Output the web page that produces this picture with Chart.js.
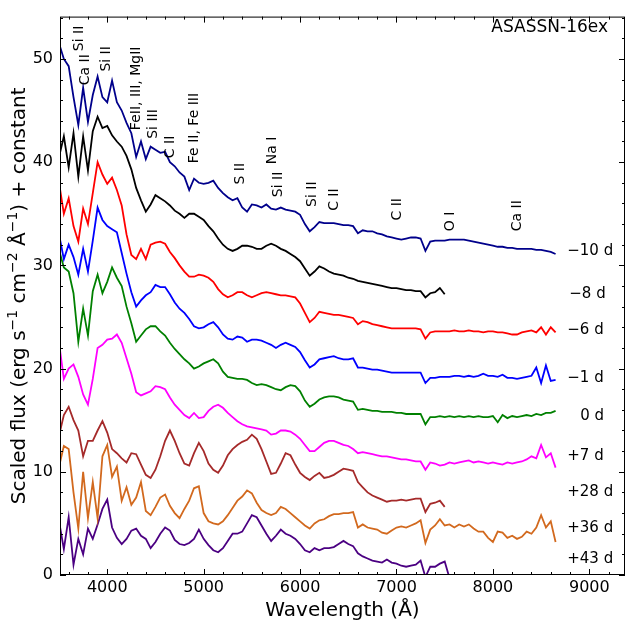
<!DOCTYPE html>
<html>
<head>
<meta charset="utf-8">
<script src="https://cdn.jsdelivr.net/npm/chart.js@4.4.0/dist/chart.umd.min.js"></script>
<style>
  html, body { margin: 0; padding: 0; background: #fff; }
  #c { display: block; }
</style>
</head>
<body>
<canvas id="c" width="626" height="629"></canvas>
<script>
// wavelength grid (Angstrom), shared by all spectra
const wave = [
  3500, 3550, 3600, 3650, 3700, 3750, 3800, 3850, 3900, 3950,
  4000, 4050, 4100, 4150, 4200, 4250, 4300, 4350, 4400, 4450,
  4500, 4550, 4600, 4650, 4700, 4750, 4800, 4850, 4900, 4950,
  5000, 5050, 5100, 5150, 5200, 5250, 5300, 5350, 5400, 5450,
  5500, 5550, 5600, 5650, 5700, 5750, 5800, 5850, 5900, 5950,
  6000, 6050, 6100, 6150, 6200, 6250, 6300, 6350, 6400, 6450,
  6500, 6550, 6600, 6650, 6700, 6750, 6800, 6850, 6900, 6950,
  7000, 7050, 7100, 7150, 7200, 7250, 7300, 7350, 7400, 7450,
  7500, 7550, 7600, 7650, 7700, 7750, 7800, 7850, 7900, 7950,
  8000, 8050, 8100, 8150, 8200, 8250, 8300, 8350, 8400, 8450,
  8500, 8550, 8600, 8650
];

// scaled flux + constant, one array per epoch (null = no coverage)
const fluxM10 = [
  51.5, 50.0, 49.3, 46.3, 43.6, 47.2, 43.9, 46.5, 48.3, 46.3,
  45.8, 47.9, 45.8, 45.0, 43.8, 42.8, 40.5, 42.0, 40.3, 41.5,
  41.2, 40.9, 41.0, 40.0, 39.6, 39.0, 38.6, 37.3, 38.4, 38.0,
  37.9, 38.0, 38.2, 37.5, 37.0, 36.6, 36.3, 36.5, 35.6, 35.2,
  35.9, 35.8, 35.6, 35.9, 35.5, 35.4, 35.6, 35.4, 35.3, 35.2,
  34.9, 34.0, 33.3, 33.7, 34.2, 34.1, 34.1, 34.1, 34.0, 33.9,
  33.9, 33.8, 33.1, 33.4, 33.3, 33.3, 33.1, 33.0, 32.8, 32.7,
  32.6, 32.5, 32.6, 32.7, 32.7, 32.6, 31.4, 32.3, 32.4, 32.4,
  32.4, 32.5, 32.5, 32.5, 32.5, 32.4, 32.3, 32.2, 32.1, 32.0,
  31.9, 31.8, 31.8, 31.7, 31.7, 31.6, 31.6, 31.6, 31.6, 31.5,
  31.5, 31.4, 31.3, 31.1
];
const fluxM8 = [
  40.5, 42.5, 39.5, 42.8, 38.6, 42.5, 39.2, 43.0, 44.4, 43.3,
  43.5, 42.6, 42.0, 41.5, 40.6, 39.3, 37.5, 36.3, 35.2, 35.9,
  36.8, 36.5, 36.2, 35.8, 35.3, 35.0, 34.6, 35.0, 35.0, 34.7,
  34.4, 33.8, 33.3, 32.6, 32.0, 31.6, 31.4, 31.6, 31.9, 31.9,
  31.8, 31.6, 31.6, 31.9, 32.1, 31.9, 31.6, 31.4, 31.1, 30.8,
  30.4, 29.7, 29.0, 29.4, 29.9, 29.7, 29.4, 29.2, 29.1, 29.0,
  28.8, 28.7, 28.5, 28.4, 28.3, 28.2, 28.1, 28.0, 27.9, 27.8,
  27.8, 27.7, 27.6, 27.6, 27.5, 27.5, 26.9, 27.3, 27.4, 27.8,
  27.2, null, null, null, null, null, null, null, null, null,
  null, null, null, null, null, null, null, null, null, null,
  null, null, null, null
];
const fluxM6 = [
  38.0, 35.0, 36.5, 33.8, 32.3, 35.5, 34.0, 37.0, 40.0, 38.8,
  37.9, 38.5, 37.3, 35.8, 33.0, 31.0, 30.6, 31.6, 30.6, 32.0,
  32.2, 32.3, 32.1, 31.3, 30.7, 30.0, 29.4, 28.9, 28.9, 29.1,
  29.0, 28.8, 28.4, 27.7, 27.2, 26.9, 27.1, 27.4, 27.4, 27.1,
  26.9, 27.1, 27.3, 27.4, 27.3, 27.2, 27.1, 27.1, 27.0, 26.9,
  26.3, 25.4, 24.5, 24.9, 25.5, 25.4, 25.3, 25.2, 25.2, 25.1,
  25.0, 24.9, 24.3, 24.6, 24.5, 24.3, 24.2, 24.1, 24.0, 23.9,
  23.9, 23.9, 23.9, 23.9, 23.9, 23.8, 22.9, 23.5, 23.6, 23.6,
  23.6, 23.6, 23.7, 23.6, 23.6, 23.7, 23.6, 23.6, 23.5, 23.6,
  23.6, 23.5, 23.5, 23.4, 23.3, 23.3, 23.5, 23.6, 23.7, 23.5,
  24.0, 23.3, 24.0, 23.5
];
const fluxM1 = [
  33.0, 30.6, 32.0, 30.8, 29.1, 31.6, 29.4, 32.4, 35.6, 34.4,
  33.8, 33.5, 33.2, 31.2, 29.2, 27.4, 26.0, 26.6, 27.1, 27.4,
  28.1, 27.9, 27.9, 27.2, 26.4, 25.8, 25.4, 24.8, 24.1, 23.9,
  24.0, 24.3, 24.5, 24.0, 23.3, 22.9, 22.8, 23.1, 23.0, 22.6,
  22.8, 22.8, 22.7, 22.5, 22.3, 22.0, 22.3, 22.5, 22.3, 22.1,
  21.6, 20.8, 20.1, 20.4, 20.9, 21.0, 21.1, 21.2, 21.0, 20.9,
  20.9, 21.0, 20.1, 20.1, 20.0, 19.9, 19.9, 19.8, 19.7, 19.6,
  19.6, 19.6, 19.6, 19.6, 19.6, 19.6, 18.6, 19.1, 19.1, 19.2,
  19.2, 19.2, 19.3, 19.3, 19.2, 19.3, 19.2, 19.3, 19.5, 19.3,
  19.3, 19.2, 19.4, 19.1, 19.1, 19.0, 19.1, 19.2, 19.3, 20.1,
  18.6, 20.3, 18.8, 18.9
];
const fluxP0 = [
  31.5, 29.8, 29.4, 27.3, 22.6, 25.8, 23.2, 27.5, 29.1, 27.3,
  28.4, 29.8, 28.8, 28.0, 26.0, 24.4, 22.6, 23.2, 23.8, 24.1,
  24.1, 23.6, 23.2, 22.5, 21.9, 21.4, 20.9, 20.5, 20.0, 20.2,
  20.5, 20.7, 20.9, 20.5, 19.7, 19.2, 19.1, 19.0, 19.0, 18.9,
  18.6, 18.4, 18.5, 18.4, 18.2, 18.0, 17.9, 18.2, 18.4, 18.3,
  17.8, 16.9, 16.3, 16.6, 17.0, 17.2, 17.3, 17.3, 17.2, 17.0,
  16.9, 16.8, 16.0, 16.1, 16.0, 15.9, 15.9, 15.8, 15.8, 15.8,
  15.7, 15.7, 15.6, 15.6, 15.6, 15.6, 14.6, 15.3, 15.3, 15.4,
  15.3, 15.4, 15.3, 15.4, 15.3, 15.4, 15.3, 15.4, 15.3, 15.3,
  15.4, 14.8, 15.5, 15.2, 15.4, 15.3, 15.4, 15.5, 15.4, 15.6,
  15.5, 15.7, 15.7, 15.9
];
const fluxP7 = [
  22.5, 19.0, 20.0, 20.4, 19.2, 17.5, 16.5, 19.0, 22.0, 22.3,
  22.8, 22.9, 23.3, 22.5, 21.0, 19.5, 17.7, 17.4, 17.6, 17.8,
  18.3, 18.2, 18.0, 17.2, 16.5, 16.0, 15.5, 15.2, 15.7, 15.2,
  15.3, 15.9, 16.3, 16.5, 16.2, 15.7, 15.3, 14.9, 14.6, 14.4,
  14.3, 14.2, 14.1, 14.0, 13.6, 13.7, 14.0, 14.0, 13.9, 13.6,
  13.2, 12.6, 12.0, 12.0, 12.4, 12.8, 13.0, 13.0, 12.8, 12.6,
  12.5, 12.2, 11.8, 11.9, 11.8, 11.7, 11.6, 11.5, 11.5, 11.4,
  11.3, 11.2, 11.2, 11.1, 11.0, 11.0, 10.2, 10.9, 10.8, 10.6,
  10.7, 10.9, 10.8, 10.9, 11.0, 11.1, 10.9, 11.0, 10.9, 10.8,
  10.9, 10.8, 10.7, 10.9, 10.8, 10.9, 11.0, 11.2, 11.5, 11.3,
  12.6, 11.4, 11.8, 10.4
];
const fluxP28 = [
  13.5, 15.5, 16.3, 15.0, 14.0, 11.5, 13.0, 13.0, 14.0, 14.9,
  13.8, 12.2, 11.8, 11.3, 10.9, 11.8, 11.7, 10.7, 9.7, 9.4,
  10.2, 11.5, 13.0, 14.0, 13.0, 11.8, 10.8, 10.6, 11.8, 12.8,
  12.0, 10.8, 10.2, 9.9, 10.6, 11.6, 12.2, 12.6, 12.9, 13.1,
  13.6, 13.2, 12.2, 11.0, 9.8, 9.9, 10.8, 11.8, 11.6, 10.7,
  9.9, 9.5, 9.2, 9.6, 9.9, 9.4, 9.5, 9.7, 10.0, 10.3,
  10.2, 10.1, 9.0, 8.5, 8.0, 7.7, 7.5, 7.3, 7.1, 7.2,
  7.2, 7.3, 7.2, 7.3, 7.4, 7.4, 6.1, 6.9, 7.0, 7.2,
  6.6, null, null, null, null, null, null, null, null, null,
  null, null, null, null, null, null, null, null, null, null,
  null, null, null, null
];
const fluxP36 = [
  10.5, 12.5, 12.2, 8.0, 4.5, 10.0, 5.5, 9.0, 5.5, 11.5,
  12.6, 9.5, 10.5, 7.2, 8.5, 6.8, 7.5, 9.0, 6.2, 5.8,
  6.6, 7.5, 7.8, 6.7, 6.0, 5.5, 6.4, 7.2, 8.4, 8.6,
  6.0, 5.2, 5.0, 4.9, 5.2, 5.8, 6.5, 7.2, 7.6, 8.2,
  7.9, 7.0, 6.3, 6.0, 5.8, 6.0, 6.6, 6.4, 6.0, 5.6,
  5.2, 4.8, 4.5, 5.0, 5.3, 5.4, 5.7, 5.9, 5.9, 6.0,
  6.0, 6.1, 4.6, 4.9, 4.6, 4.5, 4.4, 4.1, 4.0, 4.3,
  4.6, 4.7, 4.6, 4.8, 5.0, 5.3, 3.1, 4.4, 4.8, 5.4,
  4.8, 4.9, 4.6, 4.9, 4.7, 4.9, 4.5, 4.2, 4.2, 3.6,
  3.2, 4.2, 4.1, 3.6, 3.8, 3.5, 3.7, 4.2, 4.0, 4.6,
  5.8, 4.6, 5.2, 3.2
];
const fluxP43 = [
  5.2, 2.5, 5.6, 1.0, 3.5, 2.0, 4.5, 3.5, 4.9, 6.4,
  7.3, 4.6, 3.6, 3.0, 3.5, 4.3, 4.5, 3.8, 3.5, 2.6,
  3.2, 4.0, 4.6, 4.3, 3.4, 3.0, 2.9, 3.1, 3.5, 4.4,
  3.5, 2.9, 2.4, 2.2, 2.6, 3.3, 4.0, 4.0, 4.2, 5.0,
  5.8, 5.6, 4.8, 4.0, 3.3, 3.8, 4.4, 4.0, 3.8, 3.5,
  3.0, 2.4, 2.2, 2.6, 2.4, 2.6, 2.6, 2.7, 3.0, 3.3,
  3.0, 2.8, 2.1, 1.8, 1.6, 1.4, 1.3, 1.2, 1.5, 1.2,
  1.1, 0.9, 0.8, 0.9, 1.0, 1.4, -0.2, 0.8, 0.8, 1.1,
  1.3, -0.3, null, null, null, null, null, null, null, null,
  null, null, null, null, null, null, null, null, null, null,
  null, null, null, null
];

const phases = ['\u221210 d', '\u22128 d', '\u22126 d', '\u22121 d', '0 d', '+7 d', '+28 d', '+36 d', '+43 d'];
const colors = ['#00008b', '#000000', '#ff0000', '#0000ff', '#008000', '#ff00ff', '#a52a2a', '#d2691e', '#4b0082'];
const spectra = [fluxM10, fluxM8, fluxM6, fluxM1, fluxP0, fluxP7, fluxP28, fluxP36, fluxP43];

// line identifications
const lineIds = ['Si II', 'Ca II', 'Si II', 'FeII, III, MgII', 'Si III', 'C II', 'Fe II, Fe III',
  'S II', 'Na I', 'Si II', 'Si II', 'C II', 'C II', 'O I', 'Ca II'];

const xTicks = [4000, 5000, 6000, 7000, 8000, 9000];
const yTicks = [0, 10, 20, 30, 40, 50];

// where the text goes (wavelength, flux of the text start)
const lineIdPos = [[3709, 50.75], [3771, 47.45], [3989, 48.77], [4300, 43.1], [4477, 42.26], [4653, 40.38],
  [4902, 39.9], [5379, 37.83], [5711, 39.8], [5773, 36.6], [6126, 35.66], [6354, 35.28],
  [7008, 34.34], [7558, 33.3], [8253, 33.3]];
const phasePos = [[8771, 31.42], [8792, 27.17], [8771, 23.68], [8771, 19.06], [8906, 15.38],
  [8771, 11.51], [8771, 8.02], [8771, 4.53], [8771, 1.51]];

const FONT = "'DejaVu Sans', sans-serif";
Chart.defaults.font.family = FONT;
Chart.defaults.color = '#000';

const datasets = spectra.map((arr, k) => ({
  label: phases[k],
  data: wave.map((w, i) => ({ x: w, y: arr[i] })).filter(p => p.y !== null),
  borderColor: colors[k],
  borderWidth: 1.8,
  pointRadius: 0,
  tension: 0,
  fill: false
}));

const decor = {
  id: 'decor',
  afterDraw(chart) {
    const { ctx, chartArea: a, scales: { x, y } } = chart;
    ctx.save();
    ctx.strokeStyle = '#000';
    ctx.lineWidth = 1;
    ctx.strokeRect(a.left + 0.5, a.top + 0.5, a.right - a.left - 1, a.bottom - a.top - 1);

    const seg = (x1, y1, x2, y2) => { ctx.beginPath(); ctx.moveTo(x1, y1); ctx.lineTo(x2, y2); ctx.stroke(); };
    for (let v = 3600; v <= 9300; v += 200) {
      const px = Math.round(x.getPixelForValue(v)) + 0.5;
      const len = v % 1000 === 0 ? 6 : 3;
      seg(px, a.bottom, px, a.bottom - len);
      seg(px, a.top, px, a.top + len);
    }
    for (let v = 0; v <= 54; v += 2) {
      const py = Math.round(y.getPixelForValue(v)) + 0.5;
      const len = v % 10 === 0 ? 6 : 3;
      seg(a.left, py, a.left + len, py);
      seg(a.right, py, a.right - len, py);
    }

    ctx.fillStyle = '#000';
    // object name
    ctx.font = '17px ' + FONT;
    ctx.textAlign = 'right';
    ctx.textBaseline = 'middle';
    ctx.fillText('ASASSN-16ex', 608, 28);

    // epochs
    ctx.font = '15px ' + FONT;
    ctx.textAlign = 'left';
    phases.forEach((t, i) => {
      ctx.fillText(t, x.getPixelForValue(phasePos[i][0]), y.getPixelForValue(phasePos[i][1]));
    });

    // line identifications, vertical
    ctx.font = '14px ' + FONT;
    lineIds.forEach((t, i) => {
      ctx.save();
      ctx.translate(x.getPixelForValue(lineIdPos[i][0]), y.getPixelForValue(lineIdPos[i][1]));
      ctx.rotate(-Math.PI / 2);
      ctx.textAlign = 'left';
      ctx.textBaseline = 'middle';
      ctx.fillText(t, 0, 0);
      ctx.restore();
    });

    // x title
    ctx.font = '20px ' + FONT;
    ctx.textAlign = 'center';
    ctx.textBaseline = 'alphabetic';
    ctx.fillText('Wavelength (\u00c5)', (a.left + a.right) / 2, 616);

    // y title with superscripts
    const parts = [['Scaled flux (erg s', 0], ['\u22121', 1], [' cm', 0], ['\u22122', 1], [' \u00c5', 0], ['\u22121', 1], [') + constant', 0]];
    const fontFor = s => (s ? '14px ' : '20px ') + FONT;
    let total = 0;
    parts.forEach(p => { ctx.font = fontFor(p[1]); total += ctx.measureText(p[0]).width; });
    ctx.save();
    ctx.translate(25, (a.top + a.bottom) / 2);
    ctx.rotate(-Math.PI / 2);
    ctx.textAlign = 'left';
    let cx = -total / 2;
    parts.forEach(p => {
      ctx.font = fontFor(p[1]);
      ctx.fillText(p[0], cx, p[1] ? -8 : 0);
      cx += ctx.measureText(p[0]).width;
    });
    ctx.restore();
    ctx.restore();
  }
};

new Chart(document.getElementById('c'), {
  type: 'line',
  data: { datasets },
  options: {
    responsive: false,
    animation: false,
    layout: { padding: { top: 2, right: 1, left: 0, bottom: 0 } },
    plugins: { legend: { display: false }, tooltip: { enabled: false } },
    scales: {
      x: {
        type: 'linear',
        min: 3510,
        max: 9370,
        afterFit: s => { s.height = 54; },
        afterBuildTicks: s => { s.ticks = xTicks.map(v => ({ value: v })); },
        grid: { display: false, drawTicks: false },
        border: { display: false },
        ticks: { font: { size: 16 }, padding: 3, maxRotation: 0, callback: v => String(v) }
      },
      y: {
        type: 'linear',
        min: 0,
        max: 54.1,
        afterFit: s => { s.width = 60; },
        afterBuildTicks: s => { s.ticks = yTicks.map(v => ({ value: v })); },
        grid: { display: false, drawTicks: false },
        border: { display: false },
        ticks: { font: { size: 16 }, padding: 7, callback: v => String(v) }
      }
    }
  },
  plugins: [decor]
});
</script>
</body>
</html>
